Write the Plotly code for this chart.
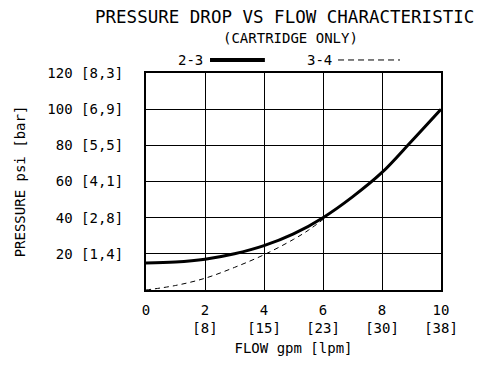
import plotly.graph_objects as go

flow_gpm = [0, 1, 2, 3, 4, 5, 6, 7, 8, 9, 10]
drop_23 = [15, 15.5, 17, 20, 24.5, 31, 40, 51.5, 65, 82.3, 100]
flow_34 = [0, 1, 2, 3, 4, 5, 5.5, 6]
drop_34 = [0, 2.5, 6.5, 12.5, 19.5, 28, 33, 39]

x_tickvals = [0, 2, 4, 6, 8, 10]
x_ticktext = ["0", "2<br>[8]", "4<br>[15]", "6<br>[23]", "8<br>[30]", "10<br>[38]"]
y_tickvals = [20, 40, 60, 80, 100, 120]
y_ticktext = ["20 [1,4]", "40 [2,8]", "60 [4,1]", "80 [5,5]", "100 [6,9]", "120 [8,3]"]

FONT = "DejaVu Sans Mono"

fig = go.Figure()
fig.add_trace(go.Scatter(x=flow_34, y=drop_34, mode="lines", name="3-4",
                         line=dict(color="black", width=1, dash="5px,4px", shape="spline"),
                         showlegend=False))
fig.add_trace(go.Scatter(x=flow_gpm, y=drop_23, mode="lines", name="2-3",
                         line=dict(color="black", width=3, shape="spline", smoothing=1),
                         showlegend=False))

fig.update_layout(
    width=501, height=368,
    margin=dict(l=146, r=60, t=73, b=78),
    paper_bgcolor="white", plot_bgcolor="white",
    font=dict(family=FONT, color="black", size=14),
    xaxis=dict(range=[0, 10], tickmode="array", tickvals=x_tickvals, ticktext=x_ticktext,
               showgrid=True, gridcolor="#000000", gridwidth=1,
               showline=True, linecolor="black", linewidth=2, mirror=True,
               zeroline=False, ticks="outside", ticklen=6, tickcolor="rgba(0,0,0,0)",
               tickfont=dict(size=14),
               title=dict(text="FLOW gpm [lpm]", font=dict(size=14), standoff=8)),
    yaxis=dict(range=[0, 120], tickmode="array", tickvals=y_tickvals, ticktext=y_ticktext,
               showgrid=True, gridcolor="#000000", gridwidth=1,
               showline=True, linecolor="black", linewidth=2, mirror=True,
               zeroline=False, ticks="outside", ticklen=18, tickcolor="rgba(0,0,0,0)",
               tickfont=dict(size=14),
               title=dict(text="PRESSURE psi [bar]", font=dict(size=14), standoff=18)),
    annotations=[
        dict(text="PRESSURE DROP VS FLOW CHARACTERISTIC", xref="paper", yref="paper",
             x=0.471, y=1.257, showarrow=False, font=dict(size=17.5), xanchor="center", yanchor="middle"),
        dict(text="(CARTRIDGE ONLY)", xref="paper", yref="paper",
             x=0.49, y=1.161, showarrow=False, font=dict(size=14), xanchor="center", yanchor="middle"),
        dict(text="2-3", xref="paper", yref="paper", x=0.2, y=1.06,
             showarrow=False, font=dict(size=14), xanchor="right", yanchor="middle"),
        dict(text="3-4", xref="paper", yref="paper", x=0.636, y=1.06,
             showarrow=False, font=dict(size=14), xanchor="right", yanchor="middle"),
    ],
    shapes=[
        dict(type="line", xref="paper", yref="paper", x0=0.217, x1=0.403, y0=1.06, y1=1.06,
             line=dict(color="black", width=4)),
        dict(type="line", xref="paper", yref="paper", x0=0.651, x1=0.861, y0=1.06, y1=1.06,
             line=dict(color="black", width=1, dash="6px,4px")),
    ],
)

fig.write_html("out.html", config={"displayModeBar": False},
               post_script="document.body.style.margin='0px';")
